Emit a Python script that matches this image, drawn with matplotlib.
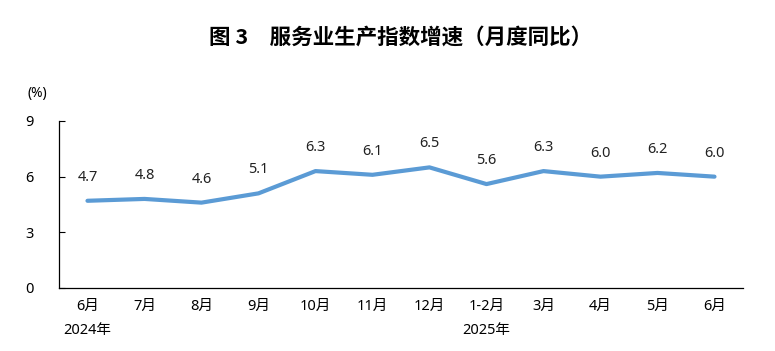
import matplotlib
matplotlib.use("Agg")
import matplotlib.pyplot as plt
import numpy as np

months = ["6月", "7月", "8月", "9月", "10月", "11月", "12月", "1-2月", "3月", "4月", "5月", "6月"]
values = [4.7, 4.8, 4.6, 5.1, 6.3, 6.1, 6.5, 5.6, 6.3, 6.0, 6.2, 6.0]
years = {0: "2024年", 7: "2025年"}
yticks = [0, 3, 6, 9]

plt.rcParams['font.family'] = ['Noto Sans', 'Noto Sans CJK SC', 'DejaVu Sans']

fig = plt.figure(figsize=(7.75, 3.51), dpi=100)
ax = fig.add_axes([0.0761, 0.1795, 0.8826, 0.4758])

x = np.arange(len(values))
ax.plot(x, values, color="#5B9BD5", linewidth=3.0, solid_capstyle="round")
for xi, v in zip(x, values):
    ax.annotate(f"{v:.1f}", (xi, v), xytext=(0, 17), textcoords="offset points",
                ha="center", va="center", fontsize=10.5, color="#222222")

ax.set_xlim(-0.5, len(values) - 0.5)
ax.set_ylim(0, 9)
ax.set_yticks(yticks)
ax.set_xticks(x)
ax.set_xticklabels(months)
ax.tick_params(axis="x", length=0, pad=8, labelsize=10.5)
ax.tick_params(axis="y", direction="in", length=4, pad=24, labelsize=10.5)
for lbl in ax.get_yticklabels():
    lbl.set_horizontalalignment("left")
for xi, yr in years.items():
    ax.text(xi, -0.21, yr, transform=ax.get_xaxis_transform(), ha="center", va="top", fontsize=10.5)

ax.spines["top"].set_visible(False)
ax.spines["right"].set_visible(False)
ax.spines["left"].set_linewidth(0.9)
ax.spines["bottom"].set_linewidth(0.9)

fig.text(0.048, 0.733, "(%)", ha="center", va="center", fontsize=10)
fig.text(0.517, 0.895, "图 3　服务业生产指数增速（月度同比）", ha="center", va="center",
         fontsize=15.5, fontweight="bold", family=["Noto Sans CJK SC"])

fig.savefig("out.png", dpi=100)
